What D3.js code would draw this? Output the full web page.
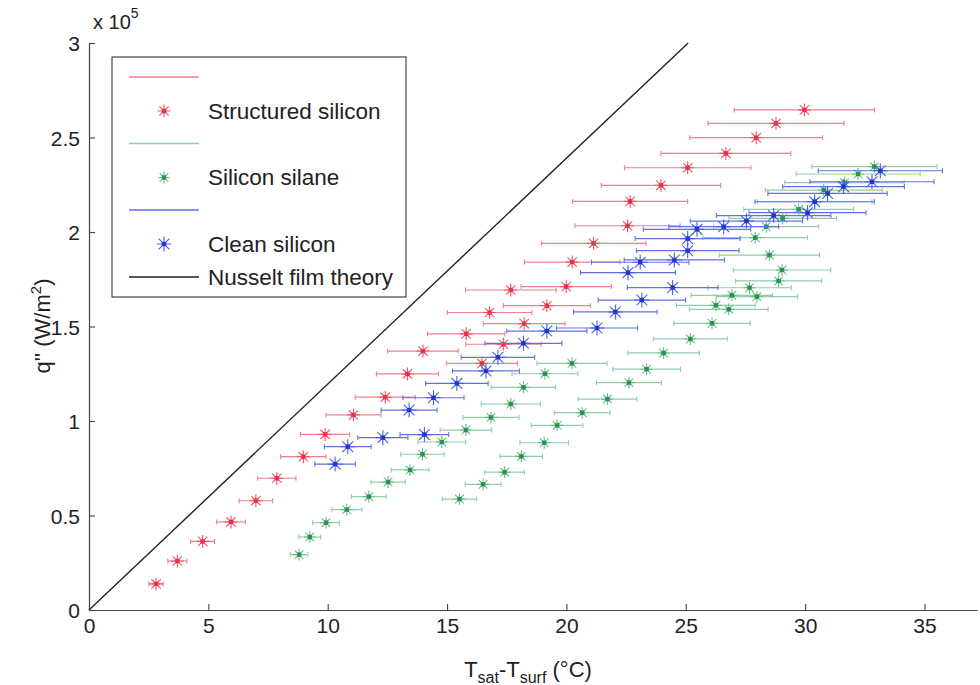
<!DOCTYPE html>
<html>
<head>
<meta charset="utf-8">
<script src="https://cdn.jsdelivr.net/npm/d3@7"></script>
<style>
  body { margin: 0; background: #fff; }
  text { font-family: "Liberation Sans", Arial, sans-serif; fill: #222; }
</style>
</head>
<body>
<script>
// ---- data (q in units of 1e5 W/m2, dT in C, err = half width of x error bar)
var structX = [2.81, 3.70, 4.76, 5.95, 6.99, 7.87, 8.98, 9.89, 11.08, 12.41, 13.34, 16.46, 13.99, 17.36, 15.80, 18.23, 16.78, 19.18, 17.67, 19.99, 20.24, 21.14, 22.56, 22.67, 23.96, 25.08, 26.68, 27.95, 28.78, 29.97];
var structQ = [0.138, 0.259, 0.363, 0.466, 0.578, 0.697, 0.811, 0.929, 1.032, 1.126, 1.249, 1.305, 1.370, 1.406, 1.461, 1.515, 1.574, 1.610, 1.693, 1.711, 1.841, 1.940, 2.033, 2.162, 2.247, 2.340, 2.416, 2.499, 2.575, 2.646];
var structErr = [0.3, 0.4, 0.5, 0.6, 0.7, 0.8, 0.95, 1.03, 1.15, 1.26, 1.3, 1.49, 1.48, 1.58, 1.62, 1.71, 1.77, 1.82, 1.9, 1.89, 2.0, 2.19, 2.2, 2.41, 2.5, 2.65, 2.72, 2.78, 2.85, 2.94];

var silaneX = [8.80, 9.25, 9.93, 10.80, 11.72, 12.53, 13.45, 13.97, 14.78, 15.79, 16.84, 17.67, 18.20, 19.10, 20.23,
               15.52, 16.51, 17.41, 18.11, 19.07, 19.61, 20.66, 21.72, 22.62, 23.36, 24.07, 25.19, 26.10, 26.80, 26.26,
               27.98, 26.93, 27.67, 28.89, 29.03, 28.50, 27.91, 28.37, 29.06, 29.73, 30.40, 30.78, 31.65, 32.22, 32.90];
var silaneQ = [0.293, 0.386, 0.462, 0.531, 0.600, 0.677, 0.741, 0.824, 0.889, 0.952, 1.019, 1.090, 1.178, 1.250, 1.305,
               0.587, 0.665, 0.729, 0.813, 0.885, 0.977, 1.044, 1.116, 1.203, 1.274, 1.360, 1.434, 1.517, 1.591, 1.612,
               1.658, 1.665, 1.705, 1.741, 1.799, 1.878, 1.970, 2.028, 2.072, 2.120, 2.160, 2.222, 2.261, 2.307, 2.346];
var silaneErr = [0.37, 0.46, 0.56, 0.63, 0.73, 0.72, 0.79, 0.91, 1.0, 1.08, 1.17, 1.24, 1.35, 1.38, 1.47,
                 0.72, 0.75, 0.83, 0.89, 1.02, 1.08, 1.17, 1.23, 1.36, 1.42, 1.5, 1.55, 1.6, 1.65, 1.65,
                 1.7, 1.7, 1.75, 1.8, 2.04, 2.1, 2.19, 2.2, 2.25, 2.3, 2.4, 2.45, 2.5, 2.6, 2.62];

var cleanX = [10.31, 10.84, 12.31, 14.05, 13.41, 14.43, 15.41, 16.63, 17.13, 18.20, 19.18, 21.28, 22.05, 23.16, 24.45, 22.58, 23.09, 24.52, 25.08, 25.08, 25.47, 26.59, 27.54, 28.68, 30.10, 30.40, 30.94, 31.61, 32.80, 33.15];
var cleanQ = [0.772, 0.864, 0.912, 0.928, 1.058, 1.123, 1.199, 1.265, 1.337, 1.411, 1.476, 1.492, 1.577, 1.640, 1.706, 1.785, 1.840, 1.852, 1.901, 1.965, 2.014, 2.028, 2.058, 2.087, 2.102, 2.160, 2.204, 2.240, 2.266, 2.324];
var cleanErr = [0.85, 0.98, 1.05, 1.02, 1.17, 1.28, 1.31, 1.40, 1.54, 1.61, 1.68, 1.70, 1.75, 1.83, 1.9, 1.99, 2.04, 2.1, 2.15, 2.2, 2.25, 2.3, 2.35, 2.4, 2.45, 2.5, 2.5, 2.55, 2.6, 2.6];

var nusseltX = [0, 25.1];
var nusseltQ = [0, 3.0];

var xTicks = [0, 5, 10, 15, 20, 25, 30, 35];
var yTicks = [0, 0.5, 1, 1.5, 2, 2.5, 3];

// ---- layout
var width = 980, height = 685;
var svg = d3.select("body").append("svg")
  .attr("width", width)
  .attr("height", height);

var x = d3.scaleLinear().domain([0, 37.2]).range([89, 977]);
var y = d3.scaleLinear().domain([0, 3]).range([610, 43]);

var series = [
  { name: "Structured silicon", xs: structX, qs: structQ, es: structErr, bar: "#f27f8e", mark: "#f05468", dot: "#e8324a", size: 6.5 },
  { name: "Silicon silane", xs: silaneX, qs: silaneQ, es: silaneErr, bar: "#8fcdab", mark: "#6cc08a", dot: "#2a9150", size: 6 },
  { name: "Clean silicon", xs: cleanX, qs: cleanQ, es: cleanErr, bar: "#6272e6", mark: "#4a5ee2", dot: "#2235cc", size: 7.5 }
];

// axes
var xAxis = svg.append("g")
  .attr("transform", "translate(0,610)")
  .call(d3.axisBottom(x).tickValues(xTicks).tickSizeInner(-6).tickSizeOuter(0).tickPadding(8));
var yAxis = svg.append("g")
  .attr("transform", "translate(89,0)")
  .call(d3.axisLeft(y).tickValues(yTicks).tickFormat(d3.format("~g")).tickSizeInner(-6).tickSizeOuter(0).tickPadding(9));

[xAxis, yAxis].forEach(function (a) {
  a.select(".domain").attr("stroke", "#444").attr("stroke-width", 1.2);
  a.selectAll(".tick line").attr("stroke", "#444").attr("stroke-width", 1.1);
  a.selectAll(".tick text").style("font-size", "21px").attr("fill", "#222")
    .style("font-family", "'Liberation Sans', Arial, sans-serif");
});
yAxis.selectAll(".tick text").attr("dy", "0.36em");

// exponent label
var expo = svg.append("text").attr("x", 93).attr("y", 29).style("font-size", "20px");
expo.append("tspan").text("x 10");
expo.append("tspan").attr("dy", -11).style("font-size", "14px").text("5");

// axis titles
var yl = svg.append("text")
  .attr("transform", "translate(50,326) rotate(-90)")
  .attr("text-anchor", "middle")
  .style("font-size", "22px");
yl.append("tspan").text("q'' (W/m");
yl.append("tspan").attr("dy", -9).style("font-size", "15px").text("2");
yl.append("tspan").attr("dy", 9).text(")");

var xl = svg.append("text")
  .attr("x", 528).attr("y", 677)
  .attr("text-anchor", "middle")
  .style("font-size", "22px");
xl.append("tspan").text("T");
xl.append("tspan").attr("dy", 6).style("font-size", "16px").text("sat");
xl.append("tspan").attr("dy", -6).text("-T");
xl.append("tspan").attr("dy", 6).style("font-size", "16px").text("surf");
xl.append("tspan").attr("dy", -6).text(" (\u00b0C)");

// Nusselt theory line
svg.append("path")
  .datum(d3.range(nusseltX.length))
  .attr("fill", "none")
  .attr("stroke", "#222")
  .attr("stroke-width", 1.4)
  .attr("d", d3.line().x(function (i) { return x(nusseltX[i]); }).y(function (i) { return y(nusseltQ[i]); }));

function star(g, cx, cy, s) {
  var r = s.size, d = r * 0.72;
  var p = "M" + (cx - r) + "," + cy + "H" + (cx + r) +
          "M" + cx + "," + (cy - r) + "V" + (cy + r) +
          "M" + (cx - d) + "," + (cy - d) + "L" + (cx + d) + "," + (cy + d) +
          "M" + (cx - d) + "," + (cy + d) + "L" + (cx + d) + "," + (cy - d);
  g.append("path").attr("d", p).attr("stroke", s.mark).attr("stroke-width", 1.1).attr("fill", "none");
  g.append("rect").attr("x", cx - 2.2).attr("y", cy - 2.2).attr("width", 4.4).attr("height", 4.4).attr("fill", s.dot);
}

// error bars and markers
series.forEach(function (s) {
  var g = svg.append("g");
  var idx = d3.range(s.xs.length);
  var bars = g.selectAll("g.bar").data(idx).enter().append("g");
  bars.append("line")
    .attr("x1", function (i) { return x(s.xs[i] - s.es[i]); })
    .attr("x2", function (i) { return x(s.xs[i] + s.es[i]); })
    .attr("y1", function (i) { return y(s.qs[i]); })
    .attr("y2", function (i) { return y(s.qs[i]); })
    .attr("stroke", s.bar).attr("stroke-width", 1.2);
  [-1, 1].forEach(function (sgn) {
    bars.append("line")
      .attr("x1", function (i) { return x(s.xs[i] + sgn * s.es[i]); })
      .attr("x2", function (i) { return x(s.xs[i] + sgn * s.es[i]); })
      .attr("y1", function (i) { return y(s.qs[i]) - 2.5; })
      .attr("y2", function (i) { return y(s.qs[i]) + 2.5; })
      .attr("stroke", s.bar).attr("stroke-width", 1.1);
  });
  idx.forEach(function (i) { star(g, x(s.xs[i]), y(s.qs[i]), s); });
});

// legend
var lg = svg.append("g");
lg.append("rect").attr("x", 112).attr("y", 57).attr("width", 294).attr("height", 240)
  .attr("fill", "#fff").attr("stroke", "#333").attr("stroke-width", 1.1);
series.forEach(function (s, k) {
  var top = 77 + k * 66.5;
  lg.append("line").attr("x1", 129).attr("x2", 199).attr("y1", top).attr("y2", top)
    .attr("stroke", s.bar).attr("stroke-width", 1.3);
  star(lg, 164, top + 34, s);
  lg.append("text").attr("x", 208).attr("y", top + 34).attr("dy", "0.35em")
    .style("font-size", "22.5px").text(s.name);
});
lg.append("line").attr("x1", 129).attr("x2", 199).attr("y1", 277).attr("y2", 277)
  .attr("stroke", "#222").attr("stroke-width", 1.4);
lg.append("text").attr("x", 208).attr("y", 277).attr("dy", "0.35em")
  .style("font-size", "22.5px").text("Nusselt film theory");
</script>
</body>
</html>
